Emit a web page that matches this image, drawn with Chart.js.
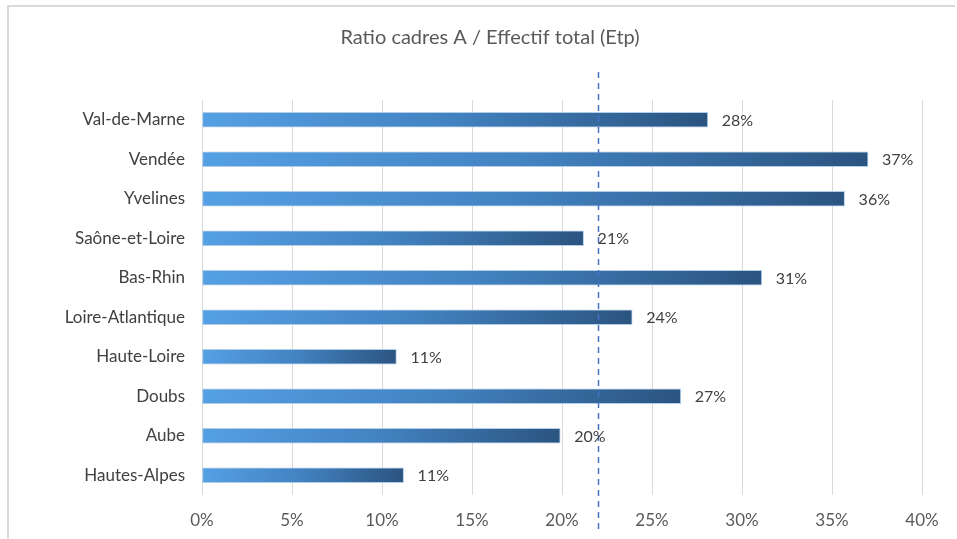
<!DOCTYPE html>
<html>
<head>
<meta charset="utf-8">
<script src="https://cdn.jsdelivr.net/npm/chart.js@4/dist/chart.umd.min.js"></script>
<style>
  html, body { margin: 0; padding: 0; background: #fff; }
  #wrap { position: relative; width: 957px; height: 539px; }
</style>
</head>
<body>
<div id="wrap"><canvas id="c" width="957" height="539"></canvas></div>
<script>
const categories = ["Val-de-Marne", "Vendée", "Yvelines", "Saône-et-Loire", "Bas-Rhin", "Loire-Atlantique", "Haute-Loire", "Doubs", "Aube", "Hautes-Alpes"];
const ratios = [28.1, 37.0, 35.7, 21.2, 31.1, 23.9, 10.8, 26.6, 19.9, 11.2];
const averageRatio = 22;
const xTicks = [0, 5, 10, 15, 20, 25, 30, 35, 40];
const chartTitle = "Ratio cadres A / Effectif total (Etp)";

const FONT = "Lato, 'Open Sans', sans-serif";

const frame = {
  id: 'frame',
  beforeDraw(chart) {
    const c = chart.ctx;
    c.save();
    c.fillStyle = '#fff';
    c.fillRect(0, 0, chart.width, chart.height);
    c.strokeStyle = '#d9d9d9';
    c.lineWidth = 2;
    c.beginPath();
    c.moveTo(8, chart.height);
    c.lineTo(8, 6);
    c.lineTo(955, 6);
    c.stroke();
    c.font = "20px " + FONT;
    c.fillStyle = '#595959';
    c.textAlign = 'center';
    c.textBaseline = 'middle';
    c.fillText(chartTitle, 490, 38);
    c.restore();
  }
};

const avgLine = {
  id: 'avgLine',
  afterDatasetsDraw(chart) {
    const c = chart.ctx;
    const x = Math.round(chart.scales.x.getPixelForValue(averageRatio)) + 0.5;
    c.save();
    c.strokeStyle = '#4472c4';
    c.lineWidth = 1.5;
    c.setLineDash([6, 5]);
    c.beginPath();
    c.moveTo(x, 72);
    c.lineTo(x, 532);
    c.stroke();
    c.restore();
  }
};

const valueLabels = {
  id: 'valueLabels',
  afterDatasetsDraw(chart) {
    const c = chart.ctx;
    const meta = chart.getDatasetMeta(0);
    c.save();
    c.font = "16px " + FONT;
    c.fillStyle = '#404040';
    c.textAlign = 'left';
    c.textBaseline = 'middle';
    meta.data.forEach((bar, i) => {
      c.fillText(Math.round(ratios[i]) + '%', bar.x + 14, bar.y + 1);
    });
    c.restore();
  }
};

new Chart(document.getElementById('c'), {
  type: 'bar',
  data: {
    labels: categories,
    datasets: [{
      data: ratios,
      backgroundColor(ctx) {
        const chart = ctx.chart;
        const xs = chart.scales.x;
        if (!xs || !chart.chartArea) return '#4a8fd4';
        const x0 = xs.getPixelForValue(0);
        const x1 = xs.getPixelForValue(ctx.raw);
        const g = chart.ctx.createLinearGradient(x0, 0, x1, 0);
        g.addColorStop(0, '#55a0e4');
        g.addColorStop(0.5, '#4282c0');
        g.addColorStop(1, '#2b5480');
        return g;
      },
      borderColor: 'rgba(170,200,230,0.9)',
      borderWidth: 1,
      borderSkipped: false,
      barThickness: 15
    }]
  },
  options: {
    indexAxis: 'y',
    responsive: false,
    animation: false,
    devicePixelRatio: 1,
    layout: { padding: { left: 0, right: 35, top: 100, bottom: 0 } },
    plugins: {
      legend: { display: false },
      tooltip: { enabled: false },
      title: { display: false }
    },
    scales: {
      x: {
        min: 0,
        max: 40,
        afterBuildTicks(scale) { scale.ticks = xTicks.map(v => ({ value: v })); },
        afterFit(scale) { scale.height = 44; },
        grid: { color: '#d9d9d9', lineWidth: 1, drawTicks: false },
        border: { display: false },
        ticks: {
          padding: 15,
          color: '#595959',
          font: { family: FONT, size: 17 },
          callback: v => v + '%'
        }
      },
      y: {
        afterFit(scale) { scale.width = 202; },
        grid: { display: false, drawTicks: false },
        border: { display: false },
        ticks: {
          padding: 17,
          color: '#404040',
          font: { family: FONT, size: 17 }
        }
      }
    }
  },
  plugins: [frame, avgLine, valueLabels]
});
</script>
</body>
</html>
